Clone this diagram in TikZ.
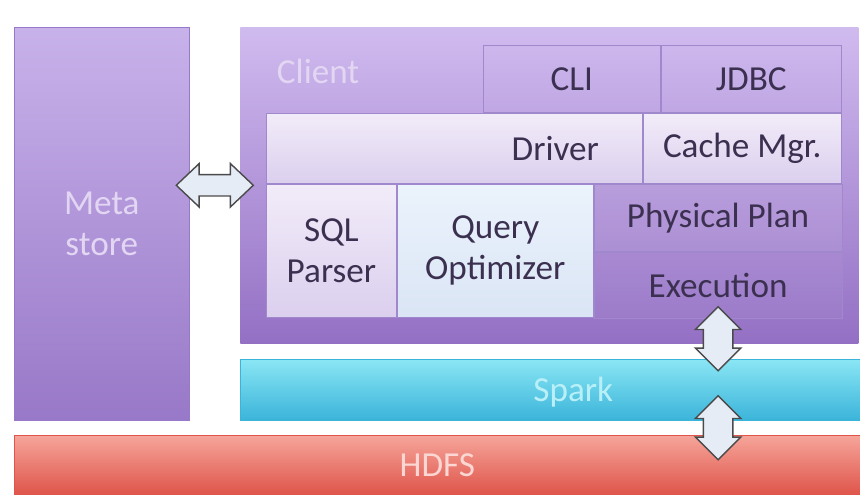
\documentclass[tikz,border=0pt]{standalone}
\usepackage{fontspec}
\setmainfont{Carlito}
\usetikzlibrary{shapes.arrows,calc}

\definecolor{metatop}{HTML}{C8B2EA}
\definecolor{metabot}{HTML}{9878C8}
\definecolor{clitop}{HTML}{D0BBEF}
\definecolor{clibot}{HTML}{9470C4}
\definecolor{paletop}{HTML}{F2ECF9}
\definecolor{palebot}{HTML}{DBCFEE}
\definecolor{bluetop}{HTML}{EBF3FC}
\definecolor{bluebot}{HTML}{DAE5F5}
\definecolor{sparktop}{HTML}{8AE6F4}
\definecolor{sparkbot}{HTML}{3BB4DA}
\definecolor{hdfstop}{HTML}{F6A59A}
\definecolor{hdfsbot}{HTML}{DF554B}
\definecolor{edge}{HTML}{A088CC}
\definecolor{ink}{HTML}{3B3050}
\definecolor{lightink}{HTML}{E2D6F3}
\definecolor{arrowfill}{HTML}{E6ECF6}
\definecolor{arrowline}{HTML}{4A4A4A}

\tikzset{
  txt/.style={font=\fontsize{25}{29}\selectfont},
  layer/.style={rectangle, inner sep=0pt, anchor=north west, txt},
  part/.style={layer, draw=edge, line width=.6pt, text=ink},
  palepart/.style={part, top color=paletop, bottom color=palebot},
  harrow/.style={double arrow, draw=arrowline, fill=arrowfill, line width=1pt,
    inner sep=.25cm, minimum height=1.925cm,
    double arrow head extend=.275cm, double arrow tip angle=87},
  varrow/.style={harrow, shape border rotate=90, inner sep=.35cm,
    minimum height=1.6cm, double arrow head extend=.2cm, double arrow tip angle=90}
}

\begin{document}
\begin{tikzpicture}
        % background
        \fill[white] (0,0) rectangle (21.5,12.35);
        \useasboundingbox (0,0) rectangle (21.5,12.35);

        % metastore and client
        \node[layer, draw=metabot, top color=metatop, bottom color=metabot,
              minimum width=4.375cm, minimum height=9.825cm, text=lightink,
              align=center] (meta) at (.35,11.675) {Meta\\store};
        \node[layer, top color=clitop, bottom color=clibot,
              minimum width=15.45cm, minimum height=7.9cm] (client) at (6,11.675) {};
        \node[txt, text=lightink, anchor=west] (clientlbl) at (6.8,10.575) {Client};

        % client parts
        \node[part, minimum width=4.425cm, minimum height=1.675cm] (cli) at (12.075,11.225) {CLI};
        \node[part, minimum width=4.5cm, minimum height=1.675cm] (jdbc) at (cli.north east) {JDBC};
        \node[palepart, minimum width=9.4cm, minimum height=1.75cm] (driver) at (6.65,9.525) {};
        \node[txt, text=ink, anchor=east] (driverlbl) at ($(driver.east)+(-.975,0)$) {Driver};
        \node[palepart, minimum width=4.95cm, minimum height=1.75cm] (cache) at (driver.north east) {Cache Mgr.};
        \node[palepart, minimum width=3.25cm, minimum height=3.325cm, align=center] (sql) at (driver.south west) {SQL\\Parser};
        \node[part, top color=bluetop, bottom color=bluebot, minimum width=4.9cm,
              minimum height=3.325cm, align=center] (qopt) at (sql.north east) {Query\\Optimizer};
        \node[part, fill=white, fill opacity=.08, text opacity=1, minimum width=6.2cm,
              minimum height=1.675cm] (phys) at (qopt.north east) {Physical Plan};
        \node[part, fill=white, fill opacity=.04, text opacity=1, minimum width=6.2cm,
              minimum height=1.65cm] (exec) at (phys.south west) {Execution};

        % spark and hdfs
        \node[layer, draw=sparkbot, top color=sparktop, bottom color=sparkbot,
              minimum width=15.5cm, minimum height=1.525cm] (spark) at (6,3.375) {};
        \node[txt, text=sparktop!60!white] (sparklbl) at ($(spark.center)+(.575,-.06)$) {Spark};
        \node[layer, draw=hdfsbot, top color=hdfstop, bottom color=hdfsbot, text=hdfstop!45!white,
              minimum width=21.15cm, minimum height=1.475cm] (hdfs) at (.35,1.475) {HDFS};

        % links
        \node[harrow] (a1) at ($(meta.east |- client.west)!.5!(client.west)$) {};
        \node[varrow] (a2) at ($(exec.south)!.5!(exec.south |- spark.north)$) {};
        \node[varrow] (a3) at ($(exec.south |- spark.south)!.5!(exec.south |- hdfs.north)$) {};
      \end{tikzpicture}
\end{document}
